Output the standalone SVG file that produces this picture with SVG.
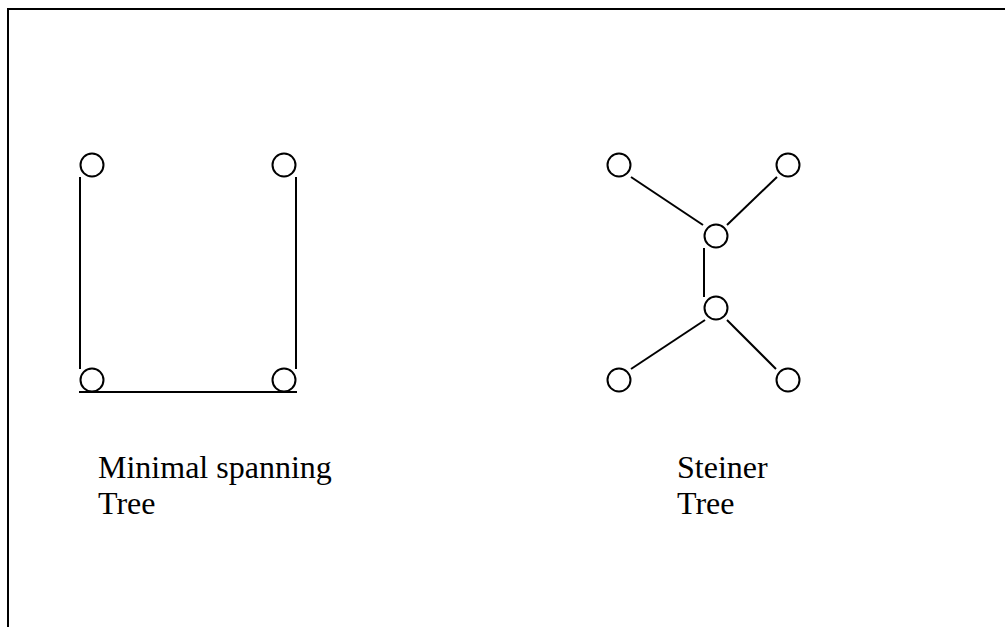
<svg xmlns="http://www.w3.org/2000/svg" width="1005" height="627" viewBox="0 0 1005 627">
<style>
.n{fill:#fff;stroke:#000;stroke-width:2}
.e{stroke:#000;stroke-width:2;fill:none}
.t{font-family:"Liberation Serif","Times New Roman",serif;font-size:32px;fill:#000}
</style>
<rect width="1005" height="627" fill="#fff"/>
<g id="frame"><path class="e" d="M8 627 V9 H1005"/></g>
<g id="connectors">
<line class="e" x1="80" y1="177" x2="80" y2="369"/>
<line class="e" x1="296" y1="177" x2="296" y2="369"/>
<line class="e" x1="79" y1="392" x2="297" y2="392"/>
<line class="e" x1="631" y1="177" x2="703" y2="225"/>
<line class="e" x1="777" y1="177" x2="727" y2="225"/>
<line class="e" x1="704" y1="248" x2="704" y2="297"/>
<line class="e" x1="705" y1="320" x2="631" y2="369"/>
<line class="e" x1="727" y1="320" x2="776" y2="369"/>
</g>
<g id="mst-tl"><circle class="n" cx="92" cy="165" r="11.5"/></g>
<g id="mst-tr"><circle class="n" cx="284" cy="165" r="11.5"/></g>
<g id="mst-bl"><circle class="n" cx="92" cy="380" r="11.5"/></g>
<g id="mst-br"><circle class="n" cx="284" cy="380" r="11.5"/></g>
<g id="st-tl"><circle class="n" cx="619" cy="165" r="11.5"/></g>
<g id="st-tr"><circle class="n" cx="788" cy="165" r="11.5"/></g>
<g id="st-m1"><circle class="n" cx="716" cy="236" r="11.5"/></g>
<g id="st-m2"><circle class="n" cx="716" cy="308" r="11.5"/></g>
<g id="st-bl"><circle class="n" cx="619" cy="380" r="11.5"/></g>
<g id="st-br"><circle class="n" cx="788" cy="380" r="11.5"/></g>
<g id="label-mst"><text class="t" x="98" y="478">Minimal spanning</text><text class="t" x="98" y="514">Tree</text></g>
<g id="label-steiner"><text class="t" x="677" y="478">Steiner</text><text class="t" x="677" y="514">Tree</text></g>
</svg>
